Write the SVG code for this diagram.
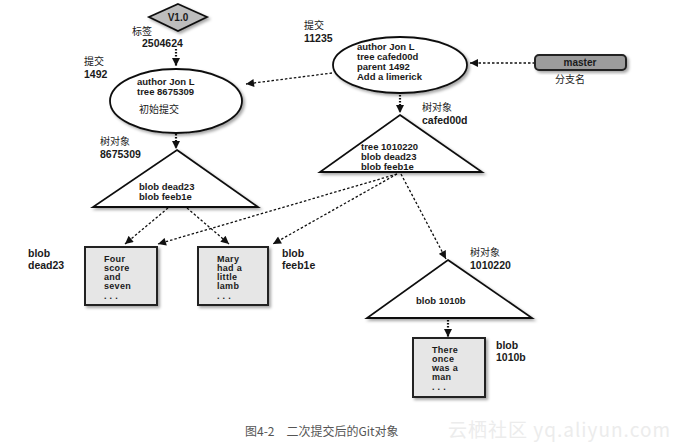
<svg xmlns="http://www.w3.org/2000/svg" width="682" height="448" viewBox="0 0 682 448">
<style>
.t{font-family:"Liberation Sans","Noto Sans CJK SC",sans-serif;font-size:9.5px;font-weight:bold;fill:#1a1a1a}
.n{font-family:"Liberation Sans",sans-serif;font-size:10.5px;font-weight:bold;fill:#1a1a1a}
.b{font-family:"Liberation Sans",sans-serif;font-size:9px;font-weight:bold;fill:#1a1a1a;letter-spacing:0.3px}
.c{font-family:"Noto Sans CJK SC","Liberation Sans",sans-serif;font-size:10px;fill:#1a1a1a}
.shape{stroke:#111;stroke-width:1.8;fill:#fff;filter:url(#sh)}
.box{stroke:#222;stroke-width:2;fill:#e6e6e6;filter:url(#sh)}
.dl{stroke:#111;stroke-width:1.3;stroke-dasharray:2.5 2;fill:none;marker-end:url(#ah)}
.dv{stroke:#111;stroke-width:2.2;stroke-dasharray:1.6 1.4;fill:none;marker-end:url(#ah)}
</style>
<defs>
<filter id="sh" x="-20%" y="-20%" width="150%" height="150%">
<feDropShadow dx="2" dy="2" stdDeviation="1.8" flood-color="#000" flood-opacity="0.35"/>
</filter>
<marker id="ah" viewBox="0 0 10 10" refX="10" refY="5" markerWidth="9" markerHeight="8" markerUnits="userSpaceOnUse" orient="auto">
<path d="M0,0 L10,5 L0,10 z" fill="#111"/>
</marker>
</defs>
<rect width="682" height="448" fill="#fff"/>

<g id="connectors">
<line class="dv" x1="176" y1="49" x2="176" y2="66"/>
<line class="dl" x1="535" y1="63" x2="470" y2="63"/>
<line class="dl" x1="332" y1="73" x2="246" y2="84"/>
<line class="dv" x1="400" y1="95" x2="400" y2="113"/>
<line class="dv" x1="176" y1="134" x2="176" y2="149"/>
<line class="dl" x1="168" y1="208" x2="125" y2="244"/>
<line class="dl" x1="187" y1="208" x2="229" y2="244"/>
<line class="dl" x1="397" y1="174" x2="158" y2="244"/>
<line class="dl" x1="397" y1="174" x2="273" y2="244"/>
<line class="dl" x1="401" y1="174" x2="446" y2="259"/>
<line class="dv" x1="448" y1="320" x2="448" y2="337"/>
</g>

<g id="tag">
<polygon class="shape" points="178,4 207,17 178,31 149,17" style="fill:#bdbdbd"/>
<text class="n" x="178" y="21" text-anchor="middle" style="font-size:10px">V1.0</text>
<text class="c" x="132" y="35">标签</text>
<text class="n" x="142" y="47">2504624</text>
</g>

<g id="commit1492">
<ellipse class="shape" cx="176" cy="101" rx="66" ry="32"/>
<text class="c" x="84" y="65">提交</text>
<text class="n" x="84" y="78">1492</text>
<text class="t" x="137" y="85">author Jon L</text>
<text class="t" x="137" y="95">tree 8675309</text>
<text class="c" x="139" y="113">初始提交</text>
</g>

<g id="commit11235">
<ellipse class="shape" cx="400" cy="65" rx="67" ry="28"/>
<text class="c" x="304" y="29">提交</text>
<text class="n" x="304" y="42">11235</text>
<text class="t" x="357" y="50">author Jon L</text>
<text class="t" x="357" y="60">tree cafed00d</text>
<text class="t" x="357" y="70">parent 1492</text>
<text class="t" x="357" y="80">Add a limerick</text>
</g>

<g id="master">
<rect class="box" x="535" y="55" width="91" height="15" rx="4" style="fill:#9c9c9c"/>
<text class="n" x="580" y="66" text-anchor="middle" style="font-size:10px">master</text>
<text class="c" x="555" y="83">分支名</text>
</g>

<g id="tree8675309">
<polygon class="shape" points="177,150 258,207 93,207"/>
<text class="c" x="100" y="145">树对象</text>
<text class="n" x="100" y="158">8675309</text>
<text class="t" x="139" y="190">blob dead23</text>
<text class="t" x="139" y="200">blob feeb1e</text>
</g>

<g id="treecafed00d">
<polygon class="shape" points="400,115 482,172 320,172"/>
<text class="c" x="422" y="111">树对象</text>
<text class="n" x="422" y="124">cafed00d</text>
<text class="t" x="361" y="150">tree 1010220</text>
<text class="t" x="361" y="160">blob dead23</text>
<text class="t" x="361" y="170">blob feeb1e</text>
</g>

<g id="blobdead23">
<rect class="box" x="85" y="247" width="72" height="58"/>
<text class="n" x="28" y="257">blob</text>
<text class="n" x="28" y="269">dead23</text>
<text class="b" x="104" y="262">Four</text>
<text class="b" x="104" y="271">score</text>
<text class="b" x="104" y="280">and</text>
<text class="b" x="104" y="289">seven</text>
<text class="b" x="104" y="299">. . .</text>
</g>

<g id="blobfeeb1e">
<rect class="box" x="198" y="247" width="70" height="58"/>
<text class="n" x="282" y="257">blob</text>
<text class="n" x="282" y="269">feeb1e</text>
<text class="b" x="217" y="262">Mary</text>
<text class="b" x="217" y="271">had a</text>
<text class="b" x="217" y="280">little</text>
<text class="b" x="217" y="289">lamb</text>
<text class="b" x="217" y="299">. . .</text>
</g>

<g id="tree1010220">
<polygon class="shape" points="448,260 532,318 367,318"/>
<text class="c" x="470" y="256">树对象</text>
<text class="n" x="470" y="269">1010220</text>
<text class="t" x="416" y="304">blob 1010b</text>
</g>

<g id="blob1010b">
<rect class="box" x="413" y="338" width="72" height="59"/>
<text class="n" x="496" y="349">blob</text>
<text class="n" x="496" y="361">1010b</text>
<text class="b" x="432" y="353">There</text>
<text class="b" x="432" y="362">once</text>
<text class="b" x="432" y="371">was a</text>
<text class="b" x="432" y="380">man</text>
<text class="b" x="432" y="390">. . .</text>
</g>

<g id="caption">
<text x="245" y="436" style="font-family:'Noto Sans CJK SC','Liberation Sans',sans-serif;font-size:12px;fill:#555">图4-2　二次提交后的Git对象</text>
<text x="448" y="437" textLength="222" style="font-family:'Noto Sans CJK SC','Liberation Sans',sans-serif;font-size:19px;fill:#ececec">云栖社区 yq.aliyun.com</text>
</g>
</svg>
